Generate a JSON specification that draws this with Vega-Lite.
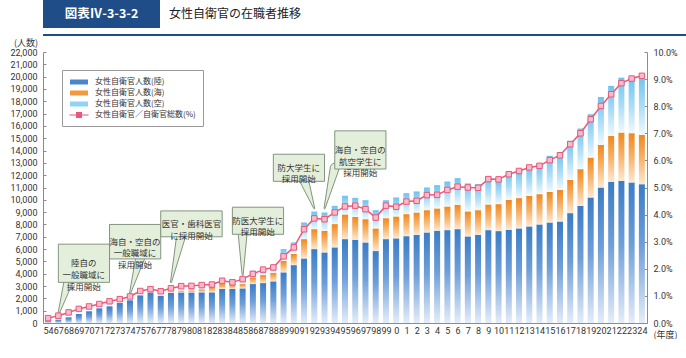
{
  "$schema": "https://vega.github.io/schema/vega-lite/v6.json",
  "padding": 0,
  "background": "white",
  "config": {
    "font": "Noto Sans CJK JP",
    "view": {"stroke": null},
    "axis": {"grid": false, "labelColor": "#333333", "titleColor": "#333333", "domainColor": "#8c8c8c", "tickColor": "#8c8c8c", "titleFontWeight": "normal", "labelFont": "Roboto", "titleFont": "Noto Sans CJK JP"}
  },
  "datasets": {
    "main": [
      {"year": "54", "land": 250, "sea": 0, "sky": 0, "ratio": 0.18},
      {"year": "67", "land": 270, "sea": 0, "sky": 0, "ratio": 0.27},
      {"year": "68", "land": 460, "sea": 0, "sky": 0, "ratio": 0.39},
      {"year": "69", "land": 730, "sea": 0, "sky": 0, "ratio": 0.52},
      {"year": "70", "land": 950, "sea": 0, "sky": 0, "ratio": 0.61},
      {"year": "71", "land": 1190, "sea": 0, "sky": 0, "ratio": 0.70},
      {"year": "72", "land": 1350, "sea": 0, "sky": 0, "ratio": 0.80},
      {"year": "73", "land": 1620, "sea": 0, "sky": 0, "ratio": 0.88},
      {"year": "74", "land": 1840, "sea": 0, "sky": 0, "ratio": 0.98},
      {"year": "75", "land": 2250, "sea": 0, "sky": 20, "ratio": 1.18},
      {"year": "76", "land": 2470, "sea": 0, "sky": 20, "ratio": 1.25},
      {"year": "77", "land": 2200, "sea": 0, "sky": 20, "ratio": 1.17},
      {"year": "78", "land": 2450, "sea": 30, "sky": 60, "ratio": 1.28},
      {"year": "79", "land": 2480, "sea": 150, "sky": 60, "ratio": 1.36},
      {"year": "80", "land": 2480, "sea": 170, "sky": 100, "ratio": 1.37},
      {"year": "81", "land": 2490, "sea": 250, "sky": 300, "ratio": 1.40},
      {"year": "82", "land": 2490, "sea": 450, "sky": 250, "ratio": 1.42},
      {"year": "83", "land": 2760, "sea": 400, "sky": 450, "ratio": 1.56},
      {"year": "84", "land": 2760, "sea": 350, "sky": 450, "ratio": 1.50},
      {"year": "85", "land": 2810, "sea": 350, "sky": 500, "ratio": 1.62},
      {"year": "86", "land": 3160, "sea": 540, "sky": 540, "ratio": 1.81},
      {"year": "87", "land": 3240, "sea": 650, "sky": 540, "ratio": 1.97},
      {"year": "88", "land": 3380, "sea": 700, "sky": 520, "ratio": 2.05},
      {"year": "89", "land": 4110, "sea": 940, "sky": 950, "ratio": 2.46},
      {"year": "90", "land": 4700, "sea": 900, "sky": 940, "ratio": 2.79},
      {"year": "91", "land": 5240, "sea": 1570, "sky": 1350, "ratio": 3.46},
      {"year": "92", "land": 6000, "sea": 1620, "sky": 1430, "ratio": 3.86},
      {"year": "93", "land": 5730, "sea": 1760, "sky": 1480, "ratio": 3.83},
      {"year": "94", "land": 6140, "sea": 1890, "sky": 1480, "ratio": 4.08},
      {"year": "95", "land": 6810, "sea": 2000, "sky": 1520, "ratio": 4.30},
      {"year": "96", "land": 6760, "sea": 1860, "sky": 1540, "ratio": 4.33},
      {"year": "97", "land": 6540, "sea": 1890, "sky": 1540, "ratio": 4.20},
      {"year": "98", "land": 5840, "sea": 1840, "sky": 1480, "ratio": 3.89},
      {"year": "99", "land": 6810, "sea": 1700, "sky": 1460, "ratio": 4.33},
      {"year": "0", "land": 6870, "sea": 1780, "sky": 1540, "ratio": 4.29},
      {"year": "1", "land": 7050, "sea": 1790, "sky": 1700, "ratio": 4.48},
      {"year": "2", "land": 7160, "sea": 1810, "sky": 1710, "ratio": 4.51},
      {"year": "3", "land": 7350, "sea": 1810, "sky": 1840, "ratio": 4.72},
      {"year": "4", "land": 7490, "sea": 1810, "sky": 1890, "ratio": 4.73},
      {"year": "5", "land": 7540, "sea": 1920, "sky": 2030, "ratio": 4.91},
      {"year": "6", "land": 7620, "sea": 1980, "sky": 2160, "ratio": 5.03},
      {"year": "7", "land": 7030, "sea": 2030, "sky": 2270, "ratio": 5.00},
      {"year": "8", "land": 7160, "sea": 2000, "sky": 2110, "ratio": 4.99},
      {"year": "9", "land": 7540, "sea": 2080, "sky": 2250, "ratio": 5.31},
      {"year": "10", "land": 7460, "sea": 2190, "sky": 1950, "ratio": 5.30},
      {"year": "11", "land": 7570, "sea": 2430, "sky": 2220, "ratio": 5.49},
      {"year": "12", "land": 7680, "sea": 2460, "sky": 2270, "ratio": 5.61},
      {"year": "13", "land": 7840, "sea": 2490, "sky": 2370, "ratio": 5.74},
      {"year": "14", "land": 8000, "sea": 2460, "sky": 2510, "ratio": 5.80},
      {"year": "15", "land": 8160, "sea": 2490, "sky": 2920, "ratio": 6.01},
      {"year": "16", "land": 8240, "sea": 2570, "sky": 2980, "ratio": 6.19},
      {"year": "17", "land": 8920, "sea": 2700, "sky": 3170, "ratio": 6.60},
      {"year": "18", "land": 9510, "sea": 2980, "sky": 3300, "ratio": 7.00},
      {"year": "19", "land": 10190, "sea": 3240, "sky": 3520, "ratio": 7.52},
      {"year": "20", "land": 11000, "sea": 3460, "sky": 3890, "ratio": 8.01},
      {"year": "21", "land": 11460, "sea": 3730, "sky": 4060, "ratio": 8.44},
      {"year": "22", "land": 11540, "sea": 3920, "sky": 4460, "ratio": 8.85},
      {"year": "23", "land": 11410, "sea": 4000, "sky": 4490, "ratio": 9.02},
      {"year": "24", "land": 11270, "sea": 4000, "sky": 4776, "ratio": 9.12}
    ],
    "boxes": [
      {"x1": "67", "x2": "72", "top": 6400, "bottom": 3300},
      {"x1": "72", "x2": "77", "top": 8000, "bottom": 5200},
      {"x1": "77", "x2": "83", "top": 9100, "bottom": 7000},
      {"x1": "84", "x2": "89", "top": 9400, "bottom": 7200},
      {"x1": "88", "x2": "93", "top": 13700, "bottom": 11500},
      {"x1": "94", "x2": "99", "top": 15600, "bottom": 12500}
    ],
    "tails": [
      {"note": 1, "end": "base", "yr": "68", "v": 3400},
      {"note": 1, "end": "tip", "yr": "67", "v": 700},
      {"note": 2, "end": "base", "yr": "75", "v": 5300},
      {"note": 2, "end": "tip", "yr": "74", "v": 2400},
      {"note": 3, "end": "base", "yr": "79", "v": 7100},
      {"note": 3, "end": "tip", "yr": "78", "v": 3300},
      {"note": 4, "end": "base", "yr": "85", "v": 7300},
      {"note": 4, "end": "tip", "yr": "85", "v": 3900},
      {"note": 5, "end": "base", "yr": "91", "v": 11600},
      {"note": 5, "end": "tip", "yr": "92", "v": 9300},
      {"note": 6, "end": "base", "yr": "94", "v": 12600},
      {"note": 6, "end": "tip", "yr": "93", "v": 9300}
    ],
    "notesA": [
      {"tx": "69", "ty": 4850, "label": "陸自の\n一般職域に\n採用開始"},
      {"tx": "74", "ty": 6600, "label": "海自・空自の\n一般職域に\n採用開始"},
      {"tx": "86", "ty": 8300, "label": "防医大学生に\n採用開始"},
      {"tx": "90", "ty": 12600, "label": "防大学生に\n採用開始"},
      {"tx": "96", "ty": 14050, "label": "海自・空自の\n航空学生に\n採用開始"}
    ],
    "notesB": [
      {"tx": "80", "ty": 8050, "label": "医官・歯科医官\nに採用開始"}
    ],
    "keys": [
      {"s": "女性自衛官人数(陸)"},
      {"s": "女性自衛官人数(海)"},
      {"s": "女性自衛官人数(空)"},
      {"s": "女性自衛官／自衛官総数(%)"}
    ]
  },
  "align": "none",
  "resolve": {"scale": {"color": "independent", "shape": "independent", "size": "independent"}},
  "vconcat": [
    {
      "vconcat": [
        {
          "hconcat": [
            {
              "width": 117, "height": 28,
              "view": {"fill": "#1e4d87", "stroke": null},
              "data": {"values": [{}]},
              "mark": {"type": "text", "text": "図表Ⅳ-3-3-2", "color": "#ffffff", "fontSize": 12.5, "fontWeight": "bold"},
              "encoding": {}
            },
            {
              "width": 130, "height": 28,
              "data": {"values": [{}]},
              "mark": {"type": "text", "text": "女性自衛官の在職者推移", "color": "#222222", "fontSize": 12},
              "encoding": {}
            }
          ],
          "spacing": 8
        },
        {
          "width": 686, "height": 2,
          "view": {"fill": "#1e4d87", "stroke": null},
          "data": {"values": [{}]},
          "mark": {"type": "text", "text": ""},
          "encoding": {}
        }
      ],
      "spacing": 1
    },
    {
      "width": 604,
      "height": 271,
      "layer": [
        {
          "layer": [
            {
              "data": {"name": "main"},
              "transform": [
                {"fold": ["land", "sea", "sky"], "as": ["branch", "count"]},
                {"stack": "count", "groupby": ["year"], "sort": [{"field": "branch", "order": "ascending"}], "as": ["c0", "c1"]}
              ],
              "layer": [
                {
                  "transform": [{"filter": "datum.branch === 'land'"}],
                  "mark": {"type": "bar", "width": 6, "fill": {"gradient": "linear", "x1": 0, "y1": 0, "x2": 0, "y2": 1, "stops": [{"offset": 0, "color": "#3a7cc6"}, {"offset": 0.45, "color": "#6f9fd9"}, {"offset": 1, "color": "#e4edf9"}]}},
                  "encoding": {
                    "x": {
                      "field": "year", "type": "ordinal", "title": "(年度)", "sort": null,
                      "scale": {"type": "point", "padding": 0.5, "domain": ["54","67","68","69","70","71","72","73","74","75","76","77","78","79","80","81","82","83","84","85","86","87","88","89","90","91","92","93","94","95","96","97","98","99","0","1","2","3","4","5","6","7","8","9","10","11","12","13","14","15","16","17","18","19","20","21","22","23","24"]},
                      "axis": {"labelAngle": 0, "labelOverlap": false, "labelFontSize": 9, "labelPadding": 6, "tickSize": -3, "titleX": 610, "titleY": 11, "titleAlign": "left", "titleBaseline": "middle", "titleFontSize": 9}
                    },
                    "y": {
                      "field": "c1", "type": "quantitative", "title": "(人数)",
                      "scale": {"domain": [0, 22000], "nice": false},
                      "axis": {"values": [0,1000,2000,3000,4000,5000,6000,7000,8000,9000,10000,11000,12000,13000,14000,15000,16000,17000,18000,19000,20000,21000,22000], "format": ",d", "labelFontSize": 9, "tickSize": -3, "labelPadding": 9, "titleAngle": 0, "titleX": -17.5, "titleY": -10, "titleAlign": "center", "titleBaseline": "middle", "titleFontSize": 9}
                    },
                    "y2": {"field": "c0"}
                  }
                },
                {
                  "transform": [{"filter": "datum.branch === 'sea'"}],
                  "mark": {"type": "bar", "width": 6, "fill": {"gradient": "linear", "x1": 0, "y1": 0, "x2": 0, "y2": 1, "stops": [{"offset": 0, "color": "#f0871c"}, {"offset": 0.5, "color": "#f7b46c"}, {"offset": 1, "color": "#fde8d0"}]}},
                  "encoding": {
                    "x": {"field": "year", "type": "ordinal", "title": "(年度)", "sort": null,
                      "axis": {"labelAngle": 0, "labelOverlap": false, "labelFontSize": 9, "labelPadding": 6, "tickSize": -3, "titleX": 610, "titleY": 11, "titleAlign": "left", "titleBaseline": "middle", "titleFontSize": 9}},
                    "y": {"field": "c1", "type": "quantitative", "title": "(人数)",
                      "axis": {"values": [0,1000,2000,3000,4000,5000,6000,7000,8000,9000,10000,11000,12000,13000,14000,15000,16000,17000,18000,19000,20000,21000,22000], "format": ",d", "labelFontSize": 9, "tickSize": -3, "labelPadding": 9, "titleAngle": 0, "titleX": -17.5, "titleY": -10, "titleAlign": "center", "titleBaseline": "middle", "titleFontSize": 9}},
                    "y2": {"field": "c0"}
                  }
                },
                {
                  "transform": [{"filter": "datum.branch === 'sky'"}],
                  "mark": {"type": "bar", "width": 6, "fill": {"gradient": "linear", "x1": 0, "y1": 0, "x2": 0, "y2": 1, "stops": [{"offset": 0, "color": "#6ec3ee"}, {"offset": 0.5, "color": "#aadcf6"}, {"offset": 1, "color": "#f0f9fe"}]}},
                  "encoding": {
                    "x": {"field": "year", "type": "ordinal", "title": "(年度)", "sort": null,
                      "axis": {"labelAngle": 0, "labelOverlap": false, "labelFontSize": 9, "labelPadding": 6, "tickSize": -3, "titleX": 610, "titleY": 11, "titleAlign": "left", "titleBaseline": "middle", "titleFontSize": 9}},
                    "y": {"field": "c1", "type": "quantitative", "title": "(人数)",
                      "axis": {"values": [0,1000,2000,3000,4000,5000,6000,7000,8000,9000,10000,11000,12000,13000,14000,15000,16000,17000,18000,19000,20000,21000,22000], "format": ",d", "labelFontSize": 9, "tickSize": -3, "labelPadding": 9, "titleAngle": 0, "titleX": -17.5, "titleY": -10, "titleAlign": "center", "titleBaseline": "middle", "titleFontSize": 9}},
                    "y2": {"field": "c0"}
                  }
                }
              ]
            },
            {
              "data": {"name": "tails"},
              "mark": {"type": "trail", "color": "#e3eedb", "stroke": "#82957f", "strokeWidth": 1},
              "encoding": {
                "x": {"field": "yr", "type": "ordinal", "title": "(年度)", "sort": null,
                  "axis": {"labelAngle": 0, "labelOverlap": false, "labelFontSize": 9, "labelPadding": 6, "tickSize": -3, "titleX": 610, "titleY": 11, "titleAlign": "left", "titleBaseline": "middle", "titleFontSize": 9}},
                "y": {"field": "v", "type": "quantitative", "title": "(人数)",
                  "axis": {"values": [0,1000,2000,3000,4000,5000,6000,7000,8000,9000,10000,11000,12000,13000,14000,15000,16000,17000,18000,19000,20000,21000,22000], "format": ",d", "labelFontSize": 9, "tickSize": -3, "labelPadding": 9, "titleAngle": 0, "titleX": -17.5, "titleY": -10, "titleAlign": "center", "titleBaseline": "middle", "titleFontSize": 9}},
                "detail": {"field": "note", "type": "nominal"},
                "size": {"field": "end", "type": "ordinal", "scale": {"domain": ["base", "tip"], "range": [9, 0]}, "legend": null}
              }
            },
            {
              "data": {"name": "boxes"},
              "mark": {"type": "rect", "fill": "#e3eedb", "stroke": "#82957f", "strokeWidth": 1},
              "encoding": {
                "x": {"field": "x1", "type": "ordinal", "title": "(年度)", "sort": null,
                  "axis": {"labelAngle": 0, "labelOverlap": false, "labelFontSize": 9, "labelPadding": 6, "tickSize": -3, "titleX": 610, "titleY": 11, "titleAlign": "left", "titleBaseline": "middle", "titleFontSize": 9}},
                "x2": {"field": "x2"},
                "y": {"field": "top", "type": "quantitative", "title": "(人数)",
                  "axis": {"values": [0,1000,2000,3000,4000,5000,6000,7000,8000,9000,10000,11000,12000,13000,14000,15000,16000,17000,18000,19000,20000,21000,22000], "format": ",d", "labelFontSize": 9, "tickSize": -3, "labelPadding": 9, "titleAngle": 0, "titleX": -17.5, "titleY": -10, "titleAlign": "center", "titleBaseline": "middle", "titleFontSize": 9}},
                "y2": {"field": "bottom"}
              }
            },
            {
              "data": {"name": "notesA"},
              "mark": {"type": "text", "lineBreak": "\n", "fontSize": 8.5, "lineHeight": 11.7, "color": "#333333", "dx": 5, "baseline": "middle", "align": "center"},
              "encoding": {
                "x": {"field": "tx", "type": "ordinal", "title": "(年度)", "sort": null,
                  "axis": {"labelAngle": 0, "labelOverlap": false, "labelFontSize": 9, "labelPadding": 6, "tickSize": -3, "titleX": 610, "titleY": 11, "titleAlign": "left", "titleBaseline": "middle", "titleFontSize": 9}},
                "y": {"field": "ty", "type": "quantitative", "title": "(人数)",
                  "axis": {"values": [0,1000,2000,3000,4000,5000,6000,7000,8000,9000,10000,11000,12000,13000,14000,15000,16000,17000,18000,19000,20000,21000,22000], "format": ",d", "labelFontSize": 9, "tickSize": -3, "labelPadding": 9, "titleAngle": 0, "titleX": -17.5, "titleY": -10, "titleAlign": "center", "titleBaseline": "middle", "titleFontSize": 9}},
                "text": {"field": "label"}
              }
            },
            {
              "data": {"name": "notesB"},
              "mark": {"type": "text", "lineBreak": "\n", "fontSize": 8.5, "lineHeight": 11.7, "color": "#333333", "baseline": "middle", "align": "center"},
              "encoding": {
                "x": {"field": "tx", "type": "ordinal", "title": "(年度)", "sort": null,
                  "axis": {"labelAngle": 0, "labelOverlap": false, "labelFontSize": 9, "labelPadding": 6, "tickSize": -3, "titleX": 610, "titleY": 11, "titleAlign": "left", "titleBaseline": "middle", "titleFontSize": 9}},
                "y": {"field": "ty", "type": "quantitative", "title": "(人数)",
                  "axis": {"values": [0,1000,2000,3000,4000,5000,6000,7000,8000,9000,10000,11000,12000,13000,14000,15000,16000,17000,18000,19000,20000,21000,22000], "format": ",d", "labelFontSize": 9, "tickSize": -3, "labelPadding": 9, "titleAngle": 0, "titleX": -17.5, "titleY": -10, "titleAlign": "center", "titleBaseline": "middle", "titleFontSize": 9}},
                "text": {"field": "label"}
              }
            }
          ]
        },
        {
          "data": {"name": "main"},
          "mark": {"type": "line", "color": "#e8587a", "strokeWidth": 1.5, "point": {"shape": "square", "size": 30, "filled": true, "fill": "#f7bccb", "stroke": "#e8587a", "strokeWidth": 1}},
          "encoding": {
            "x": {"field": "year", "type": "ordinal", "title": "(年度)", "sort": null,
              "axis": {"labelAngle": 0, "labelOverlap": false, "labelFontSize": 9, "labelPadding": 6, "tickSize": -3, "titleX": 610, "titleY": 11, "titleAlign": "left", "titleBaseline": "middle", "titleFontSize": 9}},
            "y": {
              "field": "ratio", "type": "quantitative",
              "scale": {"domain": [0, 10], "nice": false},
              "axis": {"orient": "right", "values": [0,1,2,3,4,5,6,7,8,9,10], "labelExpr": "format(datum.value, '.1f') + '%'", "labelFontSize": 9, "tickSize": -3, "labelPadding": 9, "title": ".", "titleColor": "#ffffff", "titleAngle": 0, "titleX": -647, "titleY": 268, "titleAlign": "left", "titleFontSize": 6}
            }
          }
        },
        {
          "data": {"name": "keys"},
          "mark": {"type": "point", "filled": true, "opacity": 0},
          "encoding": {
            "color": {
              "field": "s", "type": "nominal",
              "scale": {"domain": ["女性自衛官人数(陸)", "女性自衛官人数(海)", "女性自衛官人数(空)", "女性自衛官／自衛官総数(%)"], "range": ["#4a86cc", "#f39a3e", "#8fd3f5", "#e8587a"]},
              "legend": {"title": null, "orient": "none", "legendX": 19, "legendY": 18, "symbolSize": 100, "symbolOffset": 5, "symbolOpacity": 1, "symbolStrokeWidth": 0, "labelFontSize": 8, "labelFont": "Noto Sans CJK JP", "labelColor": "#333333", "labelOffset": 11, "rowPadding": 2, "padding": 7, "strokeColor": "#9a9a9a", "fillColor": "#ffffff"}
            },
            "shape": {
              "field": "s", "type": "nominal",
              "scale": {"domain": ["女性自衛官人数(陸)", "女性自衛官人数(海)", "女性自衛官人数(空)", "女性自衛官／自衛官総数(%)"], "range": ["M-1.8,-0.5H1.8V0.5H-1.8Z", "M-1.8,-0.5H1.8V0.5H-1.8Z", "M-1.8,-0.5H1.8V0.5H-1.8Z", "M-1.9,-0.1H1.9V0.1H-1.9Z M-0.6,-0.6H0.6V0.6H-0.6Z"]},
              "legend": {"title": null, "orient": "none", "legendX": 19, "legendY": 18, "symbolSize": 100, "symbolOffset": 5, "symbolOpacity": 1, "symbolStrokeWidth": 0, "labelFontSize": 8, "labelFont": "Noto Sans CJK JP", "labelColor": "#333333", "labelOffset": 11, "rowPadding": 2, "padding": 7, "strokeColor": "#9a9a9a", "fillColor": "#ffffff"}
            }
          }
        }
      ],
      "resolve": {"scale": {"y": "independent"}}
    }
  ],
  "spacing": -2
}
